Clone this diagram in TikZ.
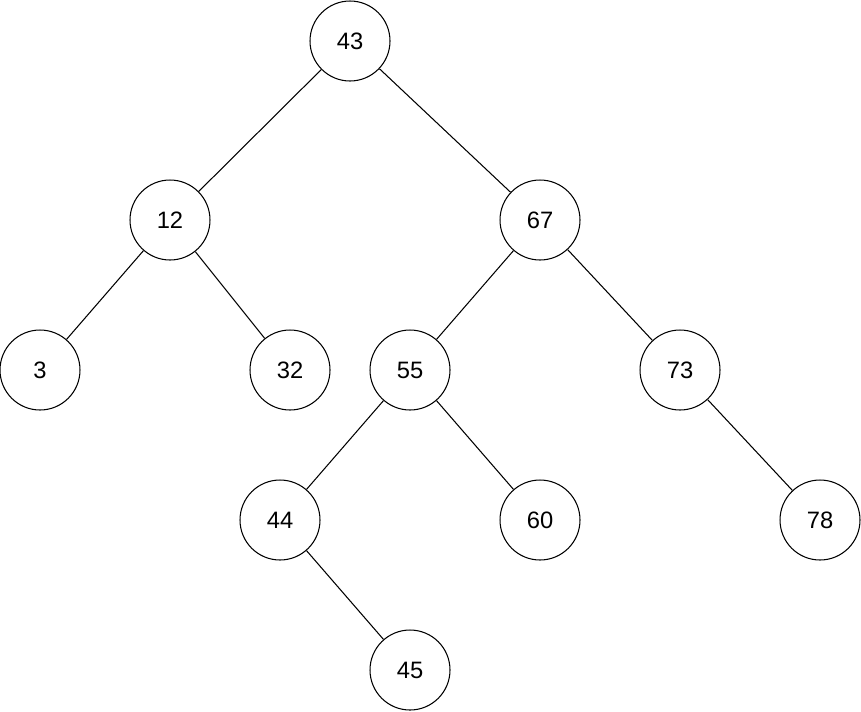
\documentclass[tikz,border=0pt]{standalone}
\usepackage{fontspec}
\setmainfont{Liberation Sans}
\usetikzlibrary{positioning}

\begin{document}
\begin{tikzpicture}[
    x=0.02cm, y=-0.02cm,
    vertex/.style={
        draw,
        circle,
        minimum size=1.6cm,
        inner sep=0pt,
        line width=0.6pt,
        font=\fontsize{13.5}{16}\selectfont
    },
    edge/.style={
        line width=0.6pt
    }
]
\useasboundingbox (0,0) rectangle (861,711);

% Nodes
\node[vertex] (n43) at (350,41) {43};
\node[vertex] (n12) at (170,220) {12};
\node[vertex] (n67) at (540,220) {67};
\node[vertex] (n3) at (40,370) {3};
\node[vertex] (n32) at (290,370) {32};
\node[vertex] (n55) at (410,370) {55};
\node[vertex] (n73) at (680,370) {73};
\node[vertex] (n44) at (280,520) {44};
\node[vertex] (n60) at (540,520) {60};
\node[vertex] (n78) at (820,520) {78};
\node[vertex] (n45) at (410,670) {45};

% Edges
\draw[edge] (n43) -- (n12);
\draw[edge] (n43) -- (n67);
\draw[edge] (n12) -- (n3);
\draw[edge] (n12) -- (n32);
\draw[edge] (n67) -- (n55);
\draw[edge] (n67) -- (n73);
\draw[edge] (n55) -- (n44);
\draw[edge] (n55) -- (n60);
\draw[edge] (n73) -- (n78);
\draw[edge] (n44) -- (n45);

\end{tikzpicture}
\end{document}
